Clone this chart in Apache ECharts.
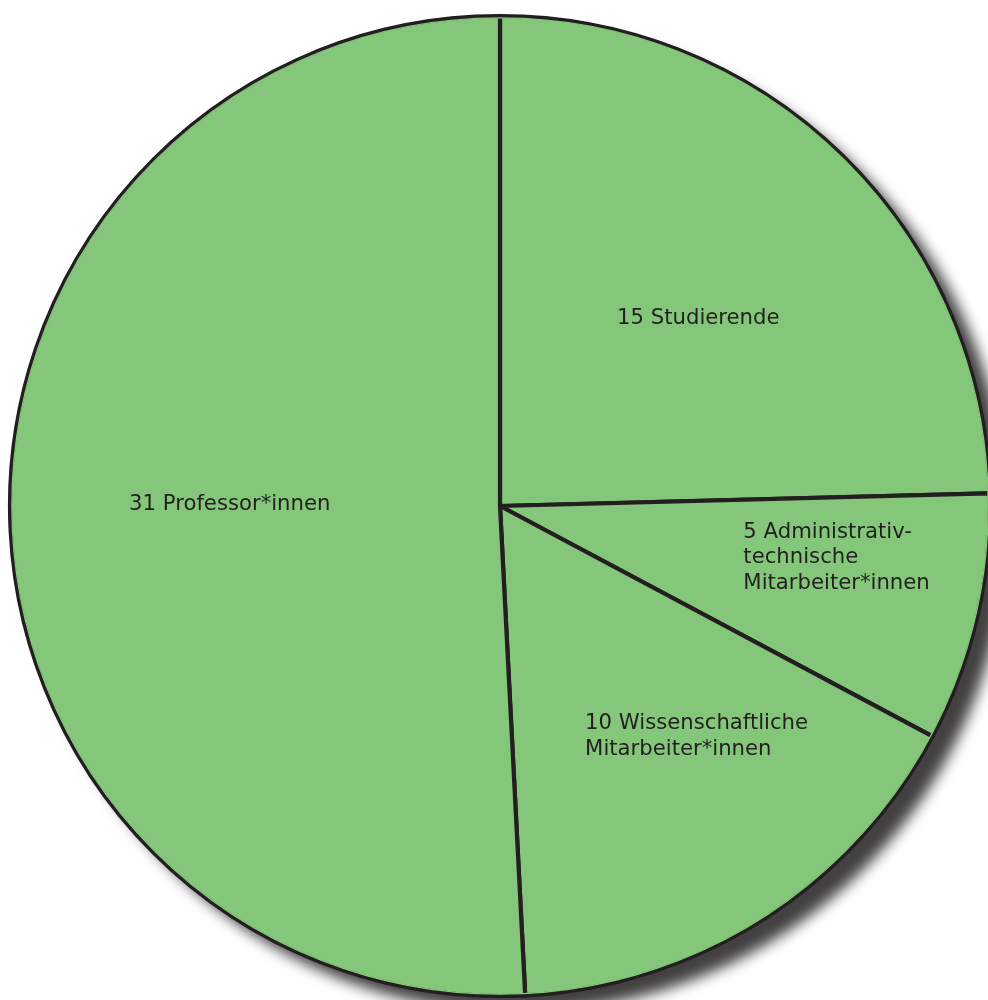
<!DOCTYPE html>
<html>
<head>
<meta charset="utf-8">
<script src="https://cdn.jsdelivr.net/npm/echarts@6/dist/echarts.min.js"></script>
<style>
html,body{margin:0;padding:0;background:#ffffff;}
#chart{width:988px;height:1000px;}
</style>
</head>
<body>
<div id="chart"></div>
<script>
var categories = ['Studierende', 'Administrativ-\ntechnische\nMitarbeiter*innen', 'Wissenschaftliche\nMitarbeiter*innen', 'Professor*innen'];
var values = [15, 5, 10, 31];
var labelShift = [[-56, -10], [2, -5], [-48, 21], [-123, -8]];

var chart = echarts.init(document.getElementById('chart'), null, {renderer: 'canvas'});
var data = categories.map(function (c, i) { return {name: c, value: values[i]}; });
var total = values.reduce(function (a, b) { return a + b; }, 0);
var green = '#85C77A';
var ink = '#231f20';

chart.setOption({
  animation: false,
  backgroundColor: '#ffffff',
  series: [
    {
      type: 'pie',
      silent: true,
      z: 1,
      center: [500, 506],
      radius: [0, 490],
      startAngle: 90,
      label: {show: false},
      labelLine: {show: false},
      itemStyle: {
        color: green,
        borderWidth: 0,
        shadowColor: 'rgba(66,64,65,1)',
        shadowBlur: 14,
        shadowOffsetX: 18,
        shadowOffsetY: 16
      },
      data: [{name: 'all', value: total}]
    },
    {
      type: 'pie',
      z: 2,
      center: [500, 506],
      radius: [0, 490],
      startAngle: 90,
      clockwise: true,
      emphasis: {disabled: true},
      itemStyle: {
        color: green,
        borderColor: ink,
        borderWidth: 4.2
      },
      label: {
        show: true,
        position: 'inside',
        formatter: function (p) { return p.value + ' ' + p.name; },
        fontFamily: 'DejaVu Sans',
        fontSize: 21.2,
        lineHeight: 25.5,
        color: ink,
        align: 'left'
      },
      labelLine: {show: false},
      labelLayout: function (p) {
        var s = labelShift[p.dataIndex];
        return {align: 'left', verticalAlign: 'middle', dx: s[0], dy: s[1]};
      },
      data: data
    },
    {
      type: 'pie',
      silent: true,
      z: 3,
      center: [500, 506],
      radius: [487.6, 490],
      startAngle: 90,
      label: {show: false},
      labelLine: {show: false},
      itemStyle: {color: green, borderWidth: 0},
      data: [{name: 'cover', value: total}]
    },
    {
      type: 'pie',
      silent: true,
      z: 4,
      center: [500, 506],
      radius: [0, 490],
      startAngle: 90,
      label: {show: false},
      labelLine: {show: false},
      itemStyle: {color: 'rgba(0,0,0,0)', borderColor: ink, borderWidth: 2.4},
      data: [{name: 'outline', value: total}]
    }
  ]
});
</script>
</body>
</html>
